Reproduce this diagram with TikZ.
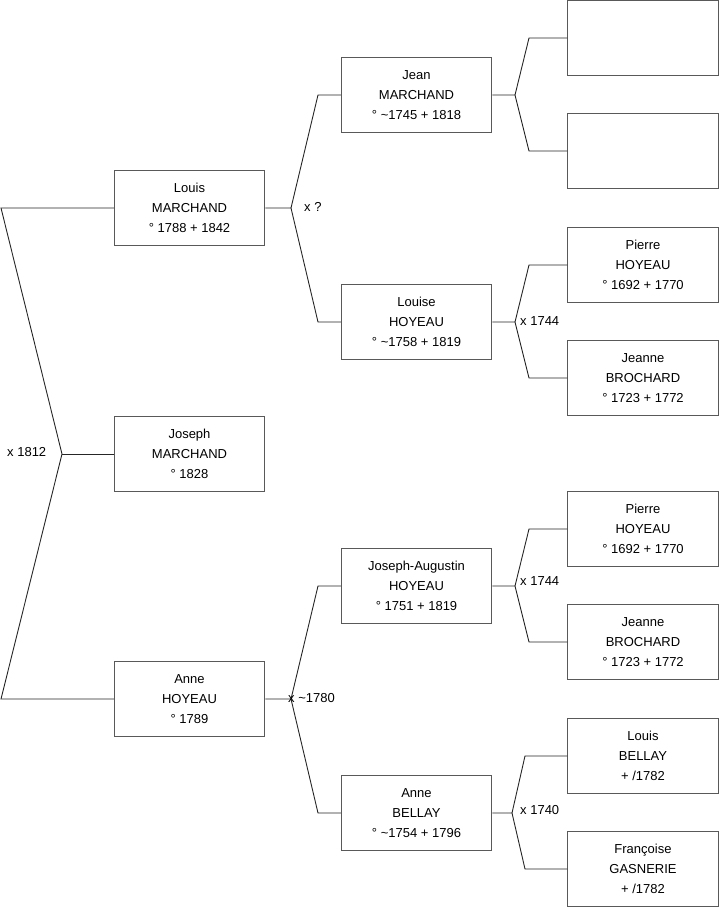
\documentclass[tikz,border=0pt]{standalone}
\usepackage{fontspec}
\setmainfont{Liberation Sans}
\newcommand{\personlines}[1]{\raisebox{3pt}{\begin{tabular}{@{}c@{}}#1\end{tabular}}}
\begin{document}
\begin{tikzpicture}[x=1pt,y=-1pt,
  person/.style={draw=black!65,line width=1pt,fill=white,minimum width=150.5pt,minimum height=75.5pt,
    inner sep=0pt,font=\fontsize{13}{20}\selectfont},
  link/.style={draw=black!85,line width=0.9pt},
  lbl/.style={anchor=west,inner sep=0pt,font=\fontsize{13}{15}\selectfont}]
\useasboundingbox (0,0) rectangle (719,908);
% column 1
\node[person] (louis) at (189.5,208) {\personlines{Louis\\MARCHAND\\° 1788 + 1842}};
\node[person] (joseph) at (189.5,454) {\personlines{Joseph\\MARCHAND\\° 1828}};
\node[person] (anne) at (189.5,699) {\personlines{Anne\\HOYEAU\\° 1789}};
% column 2
\node[person] (jean) at (416.5,95) {\personlines{Jean\\MARCHAND\\° \textasciitilde1745 + 1818}};
\node[person] (louise) at (416.5,322) {\personlines{Louise\\HOYEAU\\° \textasciitilde1758 + 1819}};
\node[person] (ja) at (416.5,586) {\personlines{Joseph-Augustin\\HOYEAU\\° 1751 + 1819}};
\node[person] (anneb) at (416.5,813) {\personlines{Anne\\BELLAY\\° \textasciitilde1754 + 1796}};
% column 3
\node[person] (e1) at (643,38) {};
\node[person] (e2) at (643,151) {};
\node[person] (pierre1) at (643,265) {\personlines{Pierre\\HOYEAU\\° 1692 + 1770}};
\node[person] (jeanne1) at (643,378) {\personlines{Jeanne\\BROCHARD\\° 1723 + 1772}};
\node[person] (pierre2) at (643,529) {\personlines{Pierre\\HOYEAU\\° 1692 + 1770}};
\node[person] (jeanne2) at (643,642) {\personlines{Jeanne\\BROCHARD\\° 1723 + 1772}};
\node[person] (lbellay) at (643,756) {\personlines{Louis\\BELLAY\\+ /1782}};
\node[person] (fgas) at (643,869) {\personlines{Françoise\\GASNERIE\\+ /1782}};
% root connectors
\coordinate (r1) at (1,208);
\coordinate (rj) at (62,454);
\coordinate (r3) at (1,699);
\draw[link] (louis.west) -- (r1) -- (rj) -- (r3) -- (anne.west);
\draw[link] (rj) -- (joseph.west);
\node[lbl] (l1812) at (7,452) {x 1812};
% Louis -> parents
\coordinate (jl) at (291,208);
\coordinate (jl1) at (318,95);
\coordinate (jl2) at (318,322);
\draw[link] (louis.east) -- (jl) -- (jl1) -- (jean.west);
\draw[link] (jl) -- (jl2) -- (louise.west);
\node[lbl] (lq) at (304,207) {x ?};
% Anne -> parents
\coordinate (ja0) at (291,699);
\coordinate (ja1) at (318,586);
\coordinate (ja2) at (318,813);
\draw[link] (anne.east) -- (ja0) -- (ja1) -- (ja.west);
\draw[link] (ja0) -- (ja2) -- (anneb.west);
\node[lbl] (l1780) at (288,698) {x \textasciitilde1780};
% Jean -> parents
\coordinate (jj) at (515,95);
\coordinate (jj1) at (529,38);
\coordinate (jj2) at (529,151);
\draw[link] (jean.east) -- (jj) -- (jj1) -- (e1.west);
\draw[link] (jj) -- (jj2) -- (e2.west);
% Louise -> parents
\coordinate (jo) at (515,322);
\coordinate (jo1) at (529,265);
\coordinate (jo2) at (529,378);
\draw[link] (louise.east) -- (jo) -- (jo1) -- (pierre1.west);
\draw[link] (jo) -- (jo2) -- (jeanne1.west);
\node[lbl] (l1744a) at (520,321) {x 1744};
% Joseph-Augustin -> parents
\coordinate (jx) at (515,586);
\coordinate (jx1) at (529,529);
\coordinate (jx2) at (529,642);
\draw[link] (ja.east) -- (jx) -- (jx1) -- (pierre2.west);
\draw[link] (jx) -- (jx2) -- (jeanne2.west);
\node[lbl] (l1744b) at (520,581) {x 1744};
% Anne Bellay -> parents
\coordinate (jb) at (512,813);
\coordinate (jb1) at (525,756);
\coordinate (jb2) at (525,869);
\draw[link] (anneb.east) -- (jb) -- (jb1) -- (lbellay.west);
\draw[link] (jb) -- (jb2) -- (fgas.west);
\node[lbl] (l1740) at (520,810) {x 1740};
\end{tikzpicture}
\end{document}
